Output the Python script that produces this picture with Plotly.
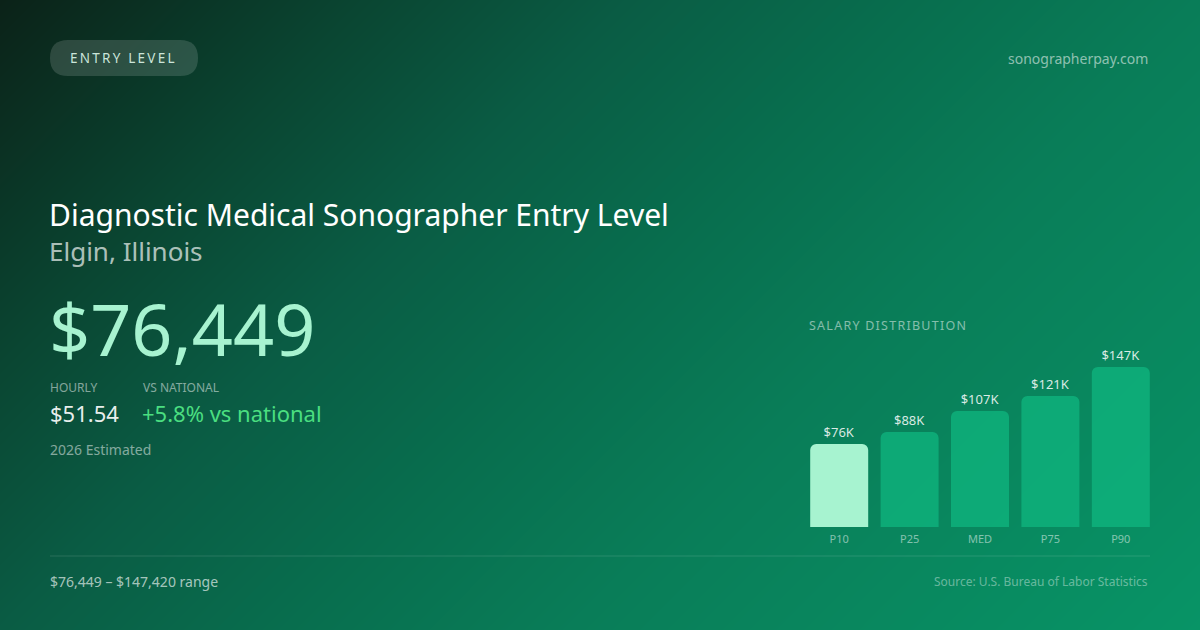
import plotly.graph_objects as go

# salary percentiles (annual, USD)
percentiles = ["P10", "P25", "MED", "P75", "P90"]
salaries = [76449, 87500, 106900, 120700, 147420]
hourly = 51.54
vs_national = 5.8

W, H = 1200, 630
FONT = "Noto Sans"


def px(x):
    return x / W


def py(y):
    return 1 - y / H


def spaced(s, sep="\u2009"):
    return sep.join(s)


def pill_path(x0, y0, x1, y1, r):
    # rounded rect in paper coords, corners drawn with quadratic curves
    X = lambda v: f"{px(v):.5f}"
    Y = lambda v: f"{py(v):.5f}"
    return (f"M{X(x0 + r)},{Y(y0)} L{X(x1 - r)},{Y(y0)} "
            f"Q{X(x1)},{Y(y0)} {X(x1)},{Y(y0 + r)} "
            f"L{X(x1)},{Y(y1 - r)} Q{X(x1)},{Y(y1)} {X(x1 - r)},{Y(y1)} "
            f"L{X(x0 + r)},{Y(y1)} Q{X(x0)},{Y(y1)} {X(x0)},{Y(y1 - r)} "
            f"L{X(x0)},{Y(y0 + r)} Q{X(x0)},{Y(y0)} {X(x0 + r)},{Y(y0)} Z")


bar_labels = [f"${round(v / 1000)}K" for v in salaries]
bar_colors = ["#a7f3d0"] + ["rgba(16,185,129,0.7)"] * (len(salaries) - 1)

fig = go.Figure()

# background gradient (135deg), drawn as a smoothed heatmap over the whole page
fig.add_trace(go.Heatmap(
    x=[0, W], y=[0, H], z=[[0, 0.656], [0.344, 1]],
    zsmooth="best", showscale=False, hoverinfo="skip",
    colorscale=[[0, "#0b2218"], [0.2, "#0a4632"], [0.344, "#0a5c44"],
                [0.5, "#086e4e"], [0.656, "#097d58"], [1, "#089466"]],
    xaxis="x", yaxis="y",
))

fig.add_trace(go.Bar(
    x=percentiles, y=salaries,
    marker=dict(color=bar_colors, cornerradius=6, line=dict(width=0)),
    text=bar_labels, textposition="outside", cliponaxis=False,
    textfont=dict(family=FONT, size=13, color="rgba(255,255,255,0.85)"),
    hoverinfo="skip", xaxis="x2", yaxis="y2",
))

ann = []


def txt(x, y, s, size, color, xanchor="left"):
    # annotations carry a couple of px of padding, nudge to match edges
    x = x - 2 if xanchor == "left" else x + 2
    ann.append(dict(x=px(x), y=py(y), xref="paper", yref="paper", text=s,
                    showarrow=False, xanchor=xanchor, yanchor="middle",
                    font=dict(family=FONT, size=size, color=color)))


txt(70, 58, spaced("ENTRY LEVEL"), 13.5, "rgba(220,245,232,0.92)")
txt(1148, 58, "sonographerpay.com", 14, "rgba(255,255,255,0.55)", "right")
txt(49, 214, "Diagnostic Medical Sonographer Entry Level", 30, "#ffffff")
txt(49, 251, "Elgin, Illinois", 26, "rgba(255,255,255,0.68)")
txt(49, 328, f"${salaries[0]:,}", 72, "#a7f3d0")
txt(50, 387, "HOURLY", 12, "rgba(255,255,255,0.5)")
txt(143, 387, "VS NATIONAL", 12, "rgba(255,255,255,0.5)")
txt(50, 413, f"${hourly:.2f}", 22, "rgba(255,255,255,0.92)")
txt(142, 413, f"+{vs_national}% vs national", 22, "#4ade80")
txt(50, 449, "2026 Estimated", 14, "rgba(255,255,255,0.5)")
txt(809, 325, spaced("SALARY DISTRIBUTION", "\u200a"), 12.5, "rgba(255,255,255,0.5)")
txt(50, 581, f"${salaries[0]:,} \u2013 ${salaries[-1]:,} range", 14, "rgba(255,255,255,0.65)")
txt(1148, 581, "Source: U.S. Bureau of Labor Statistics", 12, "rgba(255,255,255,0.4)", "right")

shapes = [
    dict(type="path", xref="paper", yref="paper", path=pill_path(50, 40, 198, 76, 18),
         fillcolor="rgba(255,255,255,0.14)", line=dict(width=0)),
    dict(type="line", xref="paper", yref="paper", x0=px(50), x1=px(1150), y0=py(556), y1=py(556),
         line=dict(color="rgba(255,255,255,0.13)", width=1)),
]

fig.update_layout(
    width=W, height=H, margin=dict(l=0, r=0, t=0, b=0),
    paper_bgcolor="#0a5c44", plot_bgcolor="rgba(0,0,0,0)",
    showlegend=False, bargap=0.176,
    font=dict(family=FONT),
    annotations=ann, shapes=shapes,
    xaxis=dict(domain=[0, 1], range=[0, W], visible=False, fixedrange=True),
    yaxis=dict(domain=[0, 1], range=[H, 0], visible=False, fixedrange=True),
    xaxis2=dict(domain=[px(804), px(1156)], range=[-0.5, 4.5], showgrid=False, zeroline=False,
                showline=False, ticks="", anchor="y2", ticklabelstandoff=4,
                tickfont=dict(family=FONT, size=11, color="rgba(255,255,255,0.5)"),
                fixedrange=True),
    yaxis2=dict(domain=[py(527), py(367)], range=[0, salaries[-1]], visible=False,
                anchor="x2", fixedrange=True),
)

fig.write_html("out.html", config={"displayModeBar": False},
               post_script="document.body.style.margin='0';document.body.style.padding='0';")
